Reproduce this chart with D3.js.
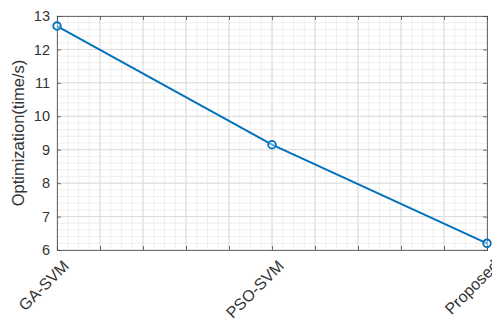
<!DOCTYPE html>
<html>
<head>
<meta charset="utf-8">
<script src="https://cdn.jsdelivr.net/npm/d3@7"></script>
<style>
  body { margin: 0; background: #fff; }
  text { font-family: "Liberation Sans", Arial, sans-serif; }
</style>
</head>
<body>
<div id="chart"></div>
<script>
// data
const methods = ["GA-SVM", "PSO-SVM", "Proposed"];
const optTime = [12.7, 9.15, 6.2];
const yTicks = [6, 7, 8, 9, 10, 11, 12, 13];

const W = 492, H = 324;
const margin = {top: 16, right: 5, bottom: 74, left: 57};
const width = W - margin.left - margin.right,
      height = H - margin.top - margin.bottom;

const svg = d3.select("#chart").append("svg")
    .attr("width", W).attr("height", H);
const g = svg.append("g")
    .attr("transform", `translate(${margin.left},${margin.top})`);

// x is numeric 1..3 like matlab, labels only on whole positions
const x = d3.scaleLinear().domain([1, 3]).range([0, width]);
const y = d3.scaleLinear().domain([6, 13]).range([height, 0]);
const xTicks = d3.range(1, 3.001, 0.2);

// minor grid
g.append("g").selectAll("line").data(d3.range(6, 13.001, 0.2))
  .join("line")
    .attr("x1", 0).attr("x2", width)
    .attr("y1", d => y(d)).attr("y2", d => y(d))
    .attr("stroke", "#ebebeb").attr("stroke-width", 0.8);
g.append("g").selectAll("line").data(d3.range(1, 3.001, 0.05))
  .join("line")
    .attr("y1", 0).attr("y2", height)
    .attr("x1", d => x(d)).attr("x2", d => x(d))
    .attr("stroke", "#ebebeb").attr("stroke-width", 0.8);

// major grid
g.append("g").selectAll("line").data(yTicks)
  .join("line")
    .attr("x1", 0).attr("x2", width)
    .attr("y1", d => y(d)).attr("y2", d => y(d))
    .attr("stroke", "#dcdcdc").attr("stroke-width", 1);
g.append("g").selectAll("line").data(xTicks)
  .join("line")
    .attr("y1", 0).attr("y2", height)
    .attr("x1", d => x(d)).attr("x2", d => x(d))
    .attr("stroke", "#dcdcdc").attr("stroke-width", 1);

// axes (box on)
const yAxis = g.append("g")
  .call(d3.axisLeft(y).tickValues(yTicks).tickSize(-4).tickPadding(7)
    .tickFormat(d3.format("d")));
g.append("g")
  .attr("transform", `translate(0,${height})`)
  .call(d3.axisBottom(x).tickValues(xTicks).tickSize(-4).tickFormat(() => ""));
g.append("g")
  .call(d3.axisTop(x).tickValues(xTicks).tickSize(-4).tickFormat(() => ""));
g.append("g").attr("transform", `translate(${width},0)`)
  .call(d3.axisRight(y).tickValues(yTicks).tickSize(-4).tickFormat(() => ""));

g.selectAll(".domain").attr("stroke", "#4d4d4d").attr("stroke-width", 0.8);
g.selectAll(".tick line").attr("stroke", "#4d4d4d").attr("stroke-width", 0.8);
yAxis.selectAll("text").attr("font-size", 14.5).attr("fill", "#333");

// rotated category labels
g.append("g").selectAll("text").data(methods)
  .join("text")
    .attr("transform", (d, i) => `translate(${x(i + 1) + 13},${height + 17}) rotate(-45)`)
    .attr("text-anchor", "end")
    .attr("font-size", 16)
    .attr("fill", "#333")
    .text(d => d);

// y label
svg.append("text")
  .attr("transform", `translate(24,${margin.top + height / 2}) rotate(-90)`)
  .attr("text-anchor", "middle")
  .attr("font-size", 16.5)
  .attr("fill", "#333")
  .text("Optimization(time/s)");

// line + markers
const line = d3.line()
  .x((d, i) => x(i + 1))
  .y(d => y(d));
g.append("path")
  .datum(optTime)
  .attr("fill", "none")
  .attr("stroke", "#0072BD")
  .attr("stroke-width", 2)
  .attr("d", line);
g.selectAll("circle.pt").data(optTime)
  .join("circle")
    .attr("class", "pt")
    .attr("cx", (d, i) => x(i + 1))
    .attr("cy", d => y(d))
    .attr("r", 3.8)
    .attr("fill", "#fff")
    .attr("fill-opacity", 0.4)
    .attr("stroke", "#0072BD")
    .attr("stroke-width", 1.8);
</script>
</body>
</html>
